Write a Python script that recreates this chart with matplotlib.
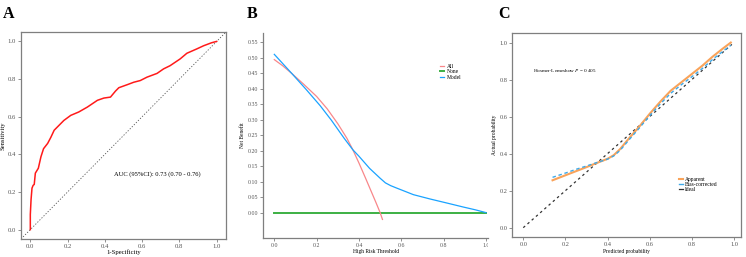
import matplotlib
matplotlib.use("Agg")
import matplotlib.pyplot as plt
from matplotlib.lines import Line2D
from matplotlib.patches import Rectangle

plt.rcParams['font.family'] = ['Liberation Serif', 'DejaVu Serif']
plt.rcParams['mathtext.fontset'] = 'stix'

# ---------------- data ----------------
# A: ROC
roc_fpr = [0, 0.0, 0.004, 0.009, 0.015, 0.021, 0.027, 0.043, 0.057, 0.071, 0.093, 0.11,
           0.128, 0.155, 0.18, 0.217, 0.26, 0.306, 0.36, 0.395, 0.43, 0.457, 0.475, 0.52,
           0.555, 0.59, 0.626, 0.68, 0.715, 0.75, 0.804, 0.84, 0.893, 0.93, 0.973, 1.0]
roc_tpr = [0, 0.08, 0.16, 0.22, 0.235, 0.24, 0.30, 0.326, 0.387, 0.43, 0.458, 0.49,
           0.528, 0.555, 0.58, 0.607, 0.625, 0.651, 0.687, 0.699, 0.704, 0.736, 0.754, 0.77,
           0.783, 0.792, 0.81, 0.83, 0.854, 0.871, 0.907, 0.937, 0.96, 0.977, 0.993, 1.0]
auc_text = "AUC (95%CI): 0.73 (0.70 - 0.76)"

# B: decision curve
all_thr = [0, 0.04, 0.083, 0.138, 0.20, 0.25, 0.30, 0.343, 0.371, 0.40, 0.43, 0.46,
           0.48, 0.50, 0.511]
all_nb = [0.494, 0.474, 0.449, 0.415, 0.375, 0.335, 0.287, 0.24, 0.203, 0.16, 0.113,
          0.065, 0.033, 0.0, -0.022]
model_thr = [0, 0.083, 0.15, 0.217, 0.27, 0.33, 0.371, 0.40, 0.45, 0.50, 0.525, 0.55,
             0.579, 0.62, 0.657, 0.736, 0.815, 0.893, 0.95, 1.0]
model_nb = [0.511, 0.449, 0.398, 0.345, 0.298, 0.240, 0.203, 0.182, 0.143, 0.111, 0.096,
            0.087, 0.079, 0.068, 0.058, 0.044, 0.031, 0.018, 0.009, 0.0]
none_thr = [0, 1.0]
none_nb = [0, 0]
b_yticks = [0.00, 0.05, 0.10, 0.15, 0.20, 0.25, 0.30, 0.35, 0.40, 0.45, 0.50, 0.55]

# C: calibration
cal_x = [0.139, 0.20, 0.25, 0.30, 0.35, 0.40, 0.43, 0.46, 0.50, 0.55, 0.60, 0.65, 0.70,
         0.75, 0.80, 0.85, 0.90, 0.95, 0.985]
apparent = [0.256, 0.283, 0.305, 0.327, 0.350, 0.372, 0.392, 0.425, 0.48, 0.545, 0.615,
            0.68, 0.74, 0.785, 0.83, 0.875, 0.925, 0.97, 1.0]
bias_corr = [0.272, 0.295, 0.315, 0.333, 0.352, 0.37, 0.388, 0.418, 0.472, 0.537, 0.605,
             0.668, 0.726, 0.772, 0.815, 0.86, 0.91, 0.955, 0.985]
ideal_x = [0, 0.99]
ideal_y = [0, 0.99]
hl_text = r"Hosmer-Lemeshow $\it{P}$ = 0.405"

# ---------------- figure ----------------
W, H = 746, 257
fig = plt.figure(figsize=(W / 100, H / 100), dpi=100)


def rect(l, r, t, b):
    return [l / W, 1 - b / H, (r - l) / W, (b - t) / H]


grey = '#7f7f7f'
tickc = '#555555'


def style(ax, fs, box=True):
    for s in ax.spines.values():
        s.set_color(grey)
        s.set_linewidth(0.9)
    if not box:
        ax.spines['top'].set_visible(False)
        ax.spines['right'].set_visible(False)
    ax.tick_params(axis='both', length=2, width=0.6, color=grey, labelcolor=tickc,
                   labelsize=fs, pad=1.5)


# ---- A ----
axA = fig.add_axes(rect(21, 226, 32, 239))
axA.plot([-0.05, 1.05], [-0.05, 1.05], color='#555555', lw=0.6, ls=(0, (1.5, 2)))
axA.plot(roc_fpr, roc_tpr, color='#ff1a1a', lw=1.1)
axA.set_xlim(-0.05, 1.05)
axA.set_ylim(-0.05, 1.05)
axA.set_xticks([0, 0.2, 0.4, 0.6, 0.8, 1.0])
axA.set_yticks([0, 0.2, 0.4, 0.6, 0.8, 1.0])
axA.set_xticklabels(['0.0', '0.2', '0.4', '0.6', '0.8', '1.0'])
axA.set_yticklabels(['0.0', '0.2', '0.4', '0.6', '0.8', '1.0'])
style(axA, 4.8)
axA.set_xlabel('1-Specificity', fontsize=4.8, labelpad=0.5)
axA.set_ylabel('Sensitivity', fontsize=4.8, labelpad=1.5)
axA.text(0.45, 0.296, auc_text, fontsize=4.7, va='center', ha='left')

# ---- B ----
axB = fig.add_axes(rect(263.3, 488.3, 33.3, 237.7))
axB.plot(none_thr, none_nb, color='#3cb043', lw=1.4, label='None', zorder=2)
axB.plot(all_thr, all_nb, color='#f8878a', lw=0.9, label='All', zorder=3)
axB.plot(model_thr, model_nb, color='#1aa3ff', lw=0.9, label='Model', zorder=4)
axB.set_xlim(-0.052, 1.011)
axB.set_ylim(-0.081, 0.579)
axB.set_xticks([0, 0.2, 0.4, 0.6, 0.8, 1.0])
axB.set_xticklabels(['0.0', '0.2', '0.4', '0.6', '0.8', '1.0'])
axB.set_yticks(b_yticks)
axB.set_yticklabels(['%.2f' % v for v in b_yticks])
style(axB, 4.2, box=False)
axB.set_xlabel('High Risk Threshold', fontsize=4.0, labelpad=1)
axB.set_ylabel('Net Benefit', fontsize=4.0, labelpad=2)
hB = [Line2D([], [], color='#f8878a', lw=0.9),
      Line2D([], [], color='#3cb043', lw=1.4),
      Line2D([], [], color='#1aa3ff', lw=0.9)]
axB.legend(hB, ['All', 'None', 'Model'], loc='upper left',
           bbox_to_anchor=(440 / W, 1 - 64 / H), bbox_transform=fig.transFigure,
           frameon=False, fontsize=4.0, handlelength=0.8, handletextpad=0.4,
           labelspacing=0.05, borderpad=0, borderaxespad=0)

# the original panel B is cropped just right of its last tick label
fig.add_artist(Rectangle((487.8 / W, 1 - 254 / H), 9 / W, 13.5 / H,
                         transform=fig.transFigure, facecolor='white',
                         edgecolor='none', zorder=10))

# ---- C ----
axC = fig.add_axes(rect(512.3, 740.7, 33.3, 237.3))
axC.plot(ideal_x, ideal_y, color='#333333', lw=0.9, ls=(0, (2, 2.5)), zorder=2)
axC.plot(cal_x, apparent, color='#f9a35a', lw=1.5, zorder=3)
axC.plot(cal_x, bias_corr, color='#3fa9e8', lw=1.0, ls=(0, (2.5, 2)), zorder=4)
axC.set_xlim(-0.052, 1.032)
axC.set_ylim(-0.052, 1.05)
axC.set_xticks([0, 0.2, 0.4, 0.6, 0.8, 1.0])
axC.set_yticks([0, 0.2, 0.4, 0.6, 0.8, 1.0])
axC.set_xticklabels(['0.0', '0.2', '0.4', '0.6', '0.8', '1.0'])
axC.set_yticklabels(['0.0', '0.2', '0.4', '0.6', '0.8', '1.0'])
style(axC, 4.6)
axC.set_xlabel('Predicted probability', fontsize=4.0, labelpad=1)
axC.set_ylabel('Actual probability', fontsize=4.0, labelpad=2)
axC.text(0.047, 0.85, hl_text, fontsize=3.7, va='center', ha='left', color='black')
hC = [Line2D([], [], color='#f9a35a', lw=1.5),
      Line2D([], [], color='#3fa9e8', lw=1.0),
      Line2D([], [], color='#333333', lw=0.9)]
axC.legend(hC, ['Apparent', 'Bias-corrected', 'Ideal'], loc='upper left',
           bbox_to_anchor=(679 / W, 1 - 176.5 / H), bbox_transform=fig.transFigure,
           frameon=False, fontsize=4.0, handlelength=0.7, handletextpad=0.4,
           labelspacing=0.05, borderpad=0, borderaxespad=0)

# panel letters
for x, letter in [(2.5, 'A'), (246.5, 'B'), (498, 'C')]:
    fig.text(x / W, 1 - 17.5 / H, letter, fontsize=11.5, fontweight='bold',
             ha='left', va='baseline')

fig.savefig('out.png', dpi=100)
